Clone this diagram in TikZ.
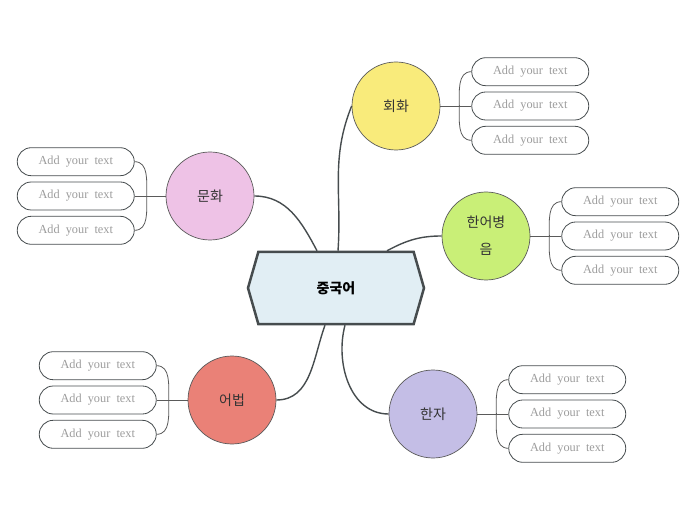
\documentclass[tikz,border=0pt]{standalone}
\usepackage{fontspec}
\newfontfamily\kr{Noto Sans CJK KR}
\newfontfamily\leaffont[WordSpace=2]{Liberation Serif}
\usetikzlibrary{positioning,shapes.symbols}

\definecolor{hubfill}{HTML}{E1EEF4}
\definecolor{hubline}{HTML}{464C4E}
\definecolor{twigline}{HTML}{5A5A5A}
\definecolor{labelgray}{HTML}{333333}
\definecolor{leafgray}{HTML}{9C9C9C}
\definecolor{yellowtopic}{HTML}{F9EB7B}
\definecolor{greentopic}{HTML}{C9EF77}
\definecolor{lilactopic}{HTML}{C4BEE6}
\definecolor{salmontopic}{HTML}{EA8177}
\definecolor{pinktopic}{HTML}{EEC2E6}

\tikzset{
	hub/.style={signal, signal to=east and west, signal pointer angle=148,
		draw=hubline, line width=2.5pt, fill=hubfill,
		minimum width=176pt, minimum height=72pt,
		font=\kr\bfseries\fontsize{14}{16}\selectfont},
	topic/.style={circle, draw=twigline, line width=0.7pt, minimum size=88pt,
		inner sep=0pt, align=center, text=labelgray,
		font=\kr\fontsize{14}{17}\selectfont},
	leaf/.style={rectangle, rounded corners=14pt, draw=hubline, line width=0.8pt,
		minimum width=117pt, minimum height=28pt, inner sep=0pt, text=leafgray,
		font=\leaffont\fontsize{12.3}{14}\selectfont},
	branch/.style={draw=hubline, line width=1.4pt},
	twig/.style={draw=twigline, line width=0.8pt}
}

\begin{document}
\begin{tikzpicture}[x=1pt, y=1pt]
	\useasboundingbox (0,0) rectangle (696,520);

	% Центральный узел
	\node[hub] (hub) at (336,232) {중국어};

	% Темы
	\node[topic, fill=yellowtopic] (hh) at (396,414) {회화};
	\node[topic, fill=greentopic] (hp) at (486,284) {한어병\\[10pt]음};
	\node[topic, fill=lilactopic] (hj) at (433,106) {한자};
	\node[topic, fill=salmontopic] (eo) at (232,120) {어법};
	\node[topic, fill=pinktopic] (mh) at (210,324) {문화};

	% Ветви от центра
	\draw[branch] ([xshift=2pt]hub.north) to[out=86,in=-112] (hh.west);
	\draw[branch] ([xshift=51pt]hub.north) to[out=28,in=180] (hp.west);
	\draw[branch] ([xshift=-19pt]hub.north) to[out=118,in=0] (mh.east);
	\draw[branch] ([xshift=-11pt]hub.south) to[out=-110,in=0] (eo.east);
	\draw[branch] ([xshift=9pt]hub.south) to[out=-105,in=180] (hj.west);

	% Листья и скобки
	\foreach \tp/\sd/\an/\ag/\sh in {hh/right/west/180/-12, hp/right/west/180/-12,
		hj/right/west/180/-12, eo/left/east/0/12, mh/left/east/0/12} {
		\node[leaf, \sd=31pt of \tp] (\tp2) {Add your text};
		\node[leaf, above=5.5pt of \tp2] (\tp1) {Add your text};
		\node[leaf, below=5.5pt of \tp2] (\tp3) {Add your text};
		\coordinate (\tp-k) at ([xshift=\sh pt]\tp2.\an);
		\draw[twig] (\tp) -- (\tp2);
		\draw[twig] (\tp1.\an) to[out=\ag,in=90] (\tp-k) to[out=-90,in=\ag] (\tp3.\an);
	}
\end{tikzpicture}
\end{document}
